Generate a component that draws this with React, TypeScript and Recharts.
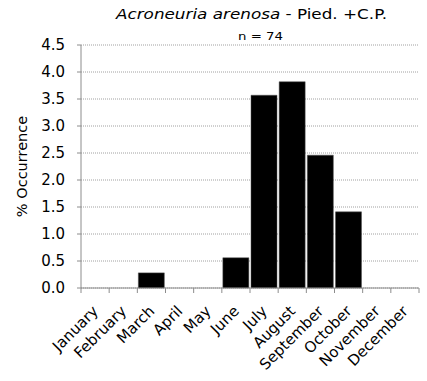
import React from 'react';
import { BarChart, Bar, XAxis, YAxis, CartesianGrid, Customized } from 'recharts';

const months = ['January', 'February', 'March', 'April', 'May', 'June', 'July', 'August', 'September', 'October', 'November', 'December'];
const occurrence = [0, 0, 0.28, 0, 0, 0.56, 3.57, 3.82, 2.46, 1.41, 0, 0];
const yTicks = [0, 0.5, 1.0, 1.5, 2.0, 2.5, 3.0, 3.5, 4.0, 4.5];
const titleSpecies = 'Acroneuria arenosa';
const titleRest = ' - Pied. +C.P.';
const subtitle = 'n = 74';
const yLabel = '% Occurrence';

const data = months.map((m, i) => ({ month: m, value: occurrence[i] }));

const FONT = '"DejaVu Sans", Verdana, sans-serif';
const AXIS_COLOR = '#8c8c8c';

const MonthTick = (props: any) => {
  const { x, y, payload, index } = props;
  const half = payload && payload.offset ? payload.offset : 14;
  const ax = x + 4;
  const ay = y + 24;
  return (
    <g>
      <line x1={x - half} y1={y} x2={x - half} y2={y + 5} stroke={AXIS_COLOR} strokeWidth={1} />
      {index === months.length - 1 && (
        <line x1={x + half} y1={y} x2={x + half} y2={y + 5} stroke={AXIS_COLOR} strokeWidth={1} />
      )}
      <text
        x={ax}
        y={ay}
        textAnchor="end"
        transform={`rotate(-45, ${ax}, ${ay})`}
        fontFamily={FONT}
        fontSize={15}
        fill="#000"
      >
        {payload.value}
      </text>
    </g>
  );
};

const YLabelContent = (props: any) => {
  const vb = props.viewBox || {};
  const cx = 22;
  const cy = (vb.y || 0) + (vb.height || 0) / 2;
  return (
    <text
      x={cx}
      y={cy}
      textAnchor="middle"
      dominantBaseline="central"
      transform={`rotate(-90, ${cx}, ${cy})`}
      fontFamily={FONT}
      fontSize={14.5}
      fill="#000"
    >
      {yLabel}
    </text>
  );
};

const Titles = () => (
  <g>
    <text
      x={251.5}
      y={18.5}
      textAnchor="middle"
      fontFamily={FONT}
      fontSize={14}
      textLength={271}
      lengthAdjust="spacingAndGlyphs"
      fill="#000"
    >
      <tspan fontStyle="italic">{titleSpecies}</tspan>
      <tspan>{titleRest}</tspan>
    </text>
    <text
      x={260.5}
      y={40}
      textAnchor="middle"
      fontFamily={FONT}
      fontSize={11}
      textLength={45}
      lengthAdjust="spacingAndGlyphs"
      fill="#000"
    >
      {subtitle}
    </text>
  </g>
);

export default function App() {
  return (
    <div style={{ width: 427, height: 381, background: '#fff' }}>
      <style>{`body{margin:0;}`}</style>
      <BarChart
        width={427}
        height={381}
        data={data}
        margin={{ top: 45, right: 8, left: 0, bottom: 0 }}
        barCategoryGap={1}
      >
        <CartesianGrid horizontal vertical={false} stroke="#a0a0a0" strokeDasharray="1 1" />
        <XAxis
          dataKey="month"
          height={93}
          interval={0}
          tickLine={false}
          tickSize={0}
          tickMargin={0}
          stroke={AXIS_COLOR}
          tick={<MonthTick />}
        />
        <YAxis
          width={81}
          domain={[0, 4.5]}
          ticks={yTicks}
          interval={0}
          tickFormatter={(v: number) => v.toFixed(1)}
          tickSize={4}
          tickMargin={12}
          stroke={AXIS_COLOR}
          tick={{ fill: '#000', fontFamily: FONT, fontSize: 15 }}
          label={{ content: <YLabelContent /> }}
        />
        <Bar dataKey="value" fill="#000" stroke="#555" strokeWidth={0.5} isAnimationActive={false} />
        <Customized component={Titles} />
      </BarChart>
    </div>
  );
}
